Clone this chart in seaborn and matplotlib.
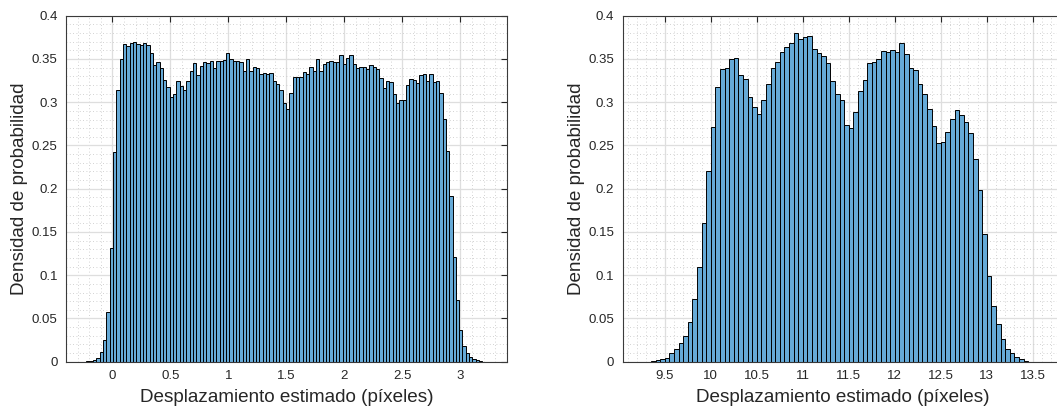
import numpy as np
import pandas as pd
import matplotlib
matplotlib.use("Agg")
import matplotlib.pyplot as plt
from matplotlib.ticker import MultipleLocator, FuncFormatter
import seaborn as sns

# Histogram of the first estimator (bin start, bin width, density per bin)
left_start = -0.2243
left_width = 0.0287
left_density = [
    0.0005, 0.001, 0.0023, 0.0046, 0.0116, 0.025, 0.058, 0.131, 0.242,
    0.314, 0.350, 0.367, 0.365, 0.369, 0.370, 0.367, 0.366, 0.369, 0.366,
    0.357, 0.343, 0.346, 0.339, 0.326, 0.317, 0.306, 0.309, 0.325, 0.319,
    0.314, 0.325, 0.336, 0.345, 0.331, 0.342, 0.347, 0.345, 0.348, 0.340,
    0.348, 0.348, 0.349, 0.357, 0.350, 0.348, 0.348, 0.347, 0.336, 0.350,
    0.336, 0.341, 0.340, 0.333, 0.334, 0.333, 0.334, 0.325, 0.321, 0.314,
    0.299, 0.292, 0.311, 0.329, 0.329, 0.329, 0.335, 0.333, 0.341, 0.336,
    0.350, 0.336, 0.344, 0.346, 0.348, 0.346, 0.346, 0.354, 0.344, 0.351,
    0.354, 0.344, 0.339, 0.341, 0.341, 0.338, 0.343, 0.341, 0.338, 0.328,
    0.316, 0.324, 0.323, 0.309, 0.299, 0.303, 0.302, 0.320, 0.327, 0.326,
    0.322, 0.331, 0.333, 0.325, 0.333, 0.323, 0.325, 0.311, 0.281, 0.244,
    0.192, 0.121, 0.071, 0.037, 0.0185, 0.0097, 0.0058, 0.0035, 0.002,
    0.0008,
]

# Histogram of the second estimator
right_start = 9.35
right_width = 0.05
right_density = [
    0.0008, 0.002, 0.003, 0.0046, 0.0096, 0.0142, 0.022, 0.030, 0.046,
    0.0723, 0.110, 0.160, 0.221,
    0.271, 0.318, 0.338, 0.340, 0.350, 0.351, 0.331, 0.3265, 0.306, 0.2945,
    0.286, 0.303, 0.321, 0.339, 0.347, 0.358, 0.364, 0.369, 0.380, 0.373,
    0.375, 0.377,
    0.362, 0.357, 0.353, 0.345, 0.325, 0.310, 0.302, 0.274, 0.270, 0.289,
    0.313, 0.326, 0.345, 0.347, 0.350, 0.359, 0.358, 0.360, 0.358, 0.368,
    0.356, 0.340, 0.337, 0.321, 0.309, 0.292, 0.273, 0.253, 0.254, 0.265,
    0.280, 0.291, 0.285, 0.277, 0.264, 0.234, 0.199,
    0.148, 0.0994, 0.0644, 0.0432, 0.0262, 0.0147, 0.0097, 0.0058, 0.0027,
    0.0008,
]

x_label = "Desplazamiento estimado (píxeles)"
y_label = "Densidad de probabilidad"
left_xticks = [0, 0.5, 1, 1.5, 2, 2.5, 3]
right_xticks = [9.5, 10, 10.5, 11, 11.5, 12, 12.5, 13, 13.5]
yticks = [0, 0.05, 0.1, 0.15, 0.2, 0.25, 0.3, 0.35, 0.4]

sns.set_style("white")
plt.rcParams["font.family"] = ["Liberation Sans", "DejaVu Sans"]

text_col = "#262626"
bar_face = (0.40, 0.668, 0.845)

fig = plt.figure(figsize=(10.57, 4.12), dpi=100)
W, H = 1057, 412
ax_l = fig.add_axes([66 / W, (H - 361.7) / H, 440.7 / W, 346 / H])
ax_r = fig.add_axes([622.7 / W, (H - 361.7) / H, 440.7 / W, 346 / H])


def draw(ax, start, width, dens, xlim, xticks):
    dens = np.asarray(dens, dtype=float)
    n = len(dens)
    edges = start + width * np.arange(n + 1)
    df = pd.DataFrame({
        "center": start + width * (np.arange(n) + 0.5),
        "density": dens,
    })
    sns.histplot(data=df, x="center", weights="density", bins=list(edges),
                 ax=ax, stat="count", color=bar_face, alpha=1.0,
                 edgecolor="black", linewidth=0.7)
    ax.set_xlim(*xlim)
    ax.set_ylim(0, 0.4)
    ax.set_xticks(xticks)
    ax.set_yticks(yticks)
    fmt = FuncFormatter(lambda v, p: f"{v:g}")
    ax.xaxis.set_major_formatter(fmt)
    ax.yaxis.set_major_formatter(fmt)
    ax.xaxis.set_minor_locator(MultipleLocator(0.1))
    ax.yaxis.set_minor_locator(MultipleLocator(0.01))
    ax.set_axisbelow(True)
    ax.grid(True, which="major", color="#dedede", linewidth=0.9)
    ax.grid(True, which="minor", color="#c4c4c4", linewidth=0.6,
            linestyle=(0, (1, 3)))
    ax.tick_params(which="major", direction="in", length=4, width=0.8,
                   top=True, right=True, colors=text_col, labelsize=9.5,
                   pad=6)
    ax.tick_params(which="minor", length=0)
    for s in ax.spines.values():
        s.set_color("#3a3a3a")
        s.set_linewidth(0.8)
    ax.set_xlabel(x_label, fontsize=13.6, color=text_col, labelpad=5)
    ax.set_ylabel(y_label, fontsize=13.6, color=text_col, labelpad=2.5)


draw(ax_l, left_start, left_width, left_density, (-0.4, 3.4), left_xticks)
draw(ax_r, right_start, right_width, right_density, (9.0435, 13.833),
     right_xticks)

fig.savefig("out.png", dpi=100)
